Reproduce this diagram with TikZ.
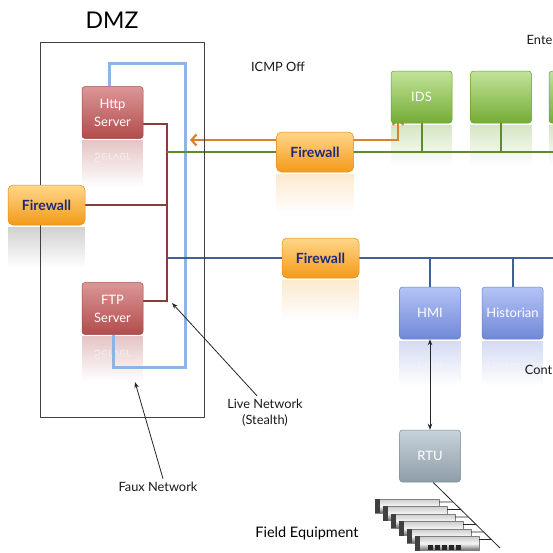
\documentclass[tikz,border=0pt]{standalone}
\usepackage{fontspec}
\setmainfont{Lato}
\usetikzlibrary{arrows.meta,fadings}

\definecolor{srvTop}{HTML}{DC9696}
\definecolor{srvBot}{HTML}{B24C4C}
\definecolor{srvEdge}{HTML}{A04848}
\definecolor{entTop}{HTML}{C2E398}
\definecolor{entBot}{HTML}{74AC36}
\definecolor{entEdge}{HTML}{6A9E30}
\definecolor{ctlTop}{HTML}{B4C4F6}
\definecolor{ctlBot}{HTML}{7088D6}
\definecolor{ctlEdge}{HTML}{6A80C4}
\definecolor{rtuTop}{HTML}{C8D2DA}
\definecolor{rtuBot}{HTML}{8E9EA8}
\definecolor{rtuEdge}{HTML}{7E8C96}
\definecolor{fwTop}{HTML}{FFD68A}
\definecolor{fwBot}{HTML}{F49A18}
\definecolor{fwEdge}{HTML}{E08C1A}
\definecolor{fwText}{HTML}{1C2A7E}
\definecolor{fauxBlue}{HTML}{8CB4E4}
\definecolor{liveRed}{HTML}{8A3C3C}
\definecolor{entGreen}{HTML}{5E8C2C}
\definecolor{ctlBlue}{HTML}{3E6298}
\definecolor{icmpOrange}{HTML}{D9822B}

\pgfdeclarelayer{bg}
\pgfdeclarelayer{wires}
\pgfsetlayers{bg,wires,main}

\tikzfading[name=reflfade, top color=transparent!40, bottom color=transparent!100]

\tikzset{
  dev/.style={rounded corners=3pt, minimum width=61pt, minimum height=52pt, inner sep=1pt,
    align=center, text=white, line width=0.5pt, font=\fontsize{13}{18}\selectfont},
  srv/.style={dev, top color=srvTop, bottom color=srvBot, draw=srvEdge},
  ent/.style={dev, top color=entTop, bottom color=entBot, draw=entEdge},
  ctl/.style={dev, top color=ctlTop, bottom color=ctlBot, draw=ctlEdge},
  rtubox/.style={dev, top color=rtuTop, bottom color=rtuBot, draw=rtuEdge},
  fw/.style={rounded corners=5pt, minimum width=77pt, minimum height=40pt, inner sep=1pt,
    top color=fwTop, bottom color=fwBot, draw=fwEdge, line width=0.5pt, text=fwText,
    font=\bfseries\fontsize{14}{16}\selectfont},
  faux/.style={fauxBlue, line width=3pt},
  live/.style={liveRed, line width=2pt},
  bus/.style={line width=2pt},
  note/.style={black!85, line width=0.8pt, -{Stealth[length=6pt,width=4.5pt]}},
  lbl/.style={font=\fontsize{12.8}{16}\selectfont, align=center, text=black!90},
  devbar/.style={minimum width=64pt, minimum height=14pt, inner sep=0pt,
    top color=black!20, bottom color=black!60, middle color=black!4,
    draw=black!50, line width=0.3pt},
}

% soft glossy reflection under a device
\newcommand\devglow[3]{%
  \fill[#2, path fading=reflfade] ([yshift=-1.5pt]#1.south west) rectangle ([yshift=-#3]#1.south east);}
% mirrored caption inside the reflection: node, node height, depth, tint, text
\newcommand\devmirror[5]{%
  \begin{scope}
    \clip ([yshift=-1.5pt]#1.south west) rectangle ([yshift=-#3]#1.south east);
    \begin{scope}[shift={([yshift=-#2-3pt]#1.center)}, yscale=-1]
      \node[transform shape, text=#4, align=center,
        font=\fontsize{13}{18}\selectfont] at (0,0) {#5};
    \end{scope}
  \end{scope}}

\begin{document}
\begin{tikzpicture}[x=1pt, y=-1pt, line join=round]
\useasboundingbox (0,0) rectangle (553,552);
\clip (0,0) rectangle (553,552);

% demilitarised zone
\node[draw=black!75, line width=1pt, minimum width=164pt, minimum height=375pt, inner sep=0pt] (dmz) at (122,229.5) {};
\node[font=\fontsize{23}{26}\selectfont] (dmzlbl) at (112,20) {DMZ};

% devices
\node[srv] (http) at (112.5,112.5) {Http\\Server};
\node[srv] (ftp) at (112.5,308.5) {FTP\\Server};
\node[fw] (fwL) at (46.5,205) {Firewall};
\node[fw] (fwE) at (315,152) {Firewall};
\node[fw] (fwC) at (320.5,258) {Firewall};
\node[ent] (ids) at (421.5,97) {IDS};
\node[ent] (ent2) at (501,97) {};
\node[ent] (ent3) at (579.5,97) {};
\node[ctl] (hmi) at (430,313) {HMI};
\node[ctl] (hist) at (512.5,313) {Historian};
\node[rtubox] (rtu) at (430,456) {RTU};

% routing points
\coordinate (fauxTR) at (185,63);
\coordinate (fauxBR) at (185,367);
\coordinate (liveTop) at (167,124);
\coordinate (liveBot) at (167,301);
\coordinate (entW) at (167,152);
\coordinate (entE) at (560,152);
\coordinate (ctlW) at (167,258);
\coordinate (ctlE) at (560,258);
\coordinate (icmpL) at (190,140);
\coordinate (icmpTurn) at (398,140);
\coordinate (liveTip) at (172,303);
\coordinate (fauxTip) at (135,382);
\coordinate (rtuOut) at ([xshift=3pt]rtu.south);
\coordinate (fieldEnd) at (500,548);

% reflections
\begin{pgfonlayer}{bg}
  \fill[white] (0,0) rectangle (553,552);
  \devglow{http}{srvBot!55}{48pt}
  \devmirror{http}{52pt}{30pt}{white!88!srvBot}{Http\\Server}
  \devglow{ftp}{srvBot!55}{46pt}
  \devmirror{ftp}{53pt}{30pt}{white!88!srvBot}{FTP\\Server}
  \devglow{fwL}{black!30}{42pt}
  \devglow{fwE}{fwBot!35}{40pt}
  \devglow{fwC}{fwBot!35}{42pt}
  \devglow{ids}{entBot!50}{42pt}
  \devmirror{ids}{52pt}{26pt}{white!90!entBot}{IDS}
  \devglow{ent2}{entBot!50}{42pt}
  \devglow{ent3}{entBot!50}{42pt}
  \devglow{hmi}{ctlBot!50}{46pt}
  \devmirror{hmi}{52pt}{28pt}{white!90!ctlBot}{HMI}
  \devglow{hist}{ctlBot!50}{46pt}
  \devmirror{hist}{52pt}{28pt}{white!90!ctlBot}{Historian}
\end{pgfonlayer}

% network wiring
\begin{pgfonlayer}{wires}
  % faux network loop
  \draw[faux] ([xshift=-3.5pt]http.north) |- (fauxTR) -- (fauxBR) -| ([xshift=0.5pt]ftp.south);
  % live (stealth) network
  \draw[live] ([yshift=-11.5pt]http.east) -- (liveTop) -- (liveBot) -- (ftp.east |- liveBot);
  \draw[live] (fwL.east) -- (fwL.east -| liveTop);
  % enterprise bus
  \draw[bus, entGreen] (entW) -- (entE);
  \foreach \n in {ids,ent2,ent3} \draw[bus, entGreen] (\n.south) -- (\n.south |- entW);
  % control bus
  \draw[bus, ctlBlue] (ctlW) -- (ctlE);
  \foreach \n in {hmi,hist} \draw[bus, ctlBlue] (\n.north) -- (\n.north |- ctlW);
  % ICMP redirection
  \draw[icmpOrange, line width=2.2pt,
    {Straight Barb[length=5pt,width=11pt]}-{Straight Barb[length=5pt,width=11pt]}]
    (icmpL) -- (icmpTurn) -- ([yshift=5pt]ids.south -| icmpTurn);
  % HMI to RTU link
  \draw[black!85, line width=0.8pt, {Stealth[length=6pt,width=4.5pt]}-{Stealth[length=6pt,width=4.5pt]}]
    (hmi.south) -- (rtu.north);
  % RTU field trunk
  \draw[black!85, line width=0.8pt] (rtuOut) -- (fieldEnd);
\end{pgfonlayer}

% field equipment stack
\foreach \i in {0,...,5} {
  \node[devbar] (bar\i) at ({407+8*\i},{506+7.5*\i}) {};
  \fill[black!75] (bar\i.north west) rectangle ([xshift=5pt]bar\i.south west);
  \coordinate (bh\i) at ([xshift=40pt]bar\i.east);
  \draw[black!85, line width=0.6pt] ([yshift=4pt]bar\i.east) -- (intersection of {[yshift=4pt]bar\i.east}--{[yshift=4pt]bh\i} and rtuOut--fieldEnd);
}
\foreach \k in {0,...,4} \fill[black!85] ({428+7*\k},545) rectangle ++(5,5);

% labels
\node[lbl] (icmplbl) at (278,67) {ICMP Off};
\node[lbl, anchor=east, inner xsep=0.5pt] (entlbl) at (553,40) {Ente};
\node[lbl, anchor=east, inner xsep=0.5pt] (ctllbl) at (553,370) {Cont};
\node[lbl] (livelbl) at (265,413) {Live Network\\(Stealth)};
\node[lbl] (fauxlbl) at (158,487) {Faux Network};
\node[font=\fontsize{14.5}{17}\selectfont] (fieldlbl) at (307,533) {Field Equipment};

% annotation pointers
\draw[note] ([xshift=-8pt]livelbl.north) -- (liveTip);
\draw[note] ([xshift=5pt]fauxlbl.north) -- (fauxTip);
\end{tikzpicture}
\end{document}
